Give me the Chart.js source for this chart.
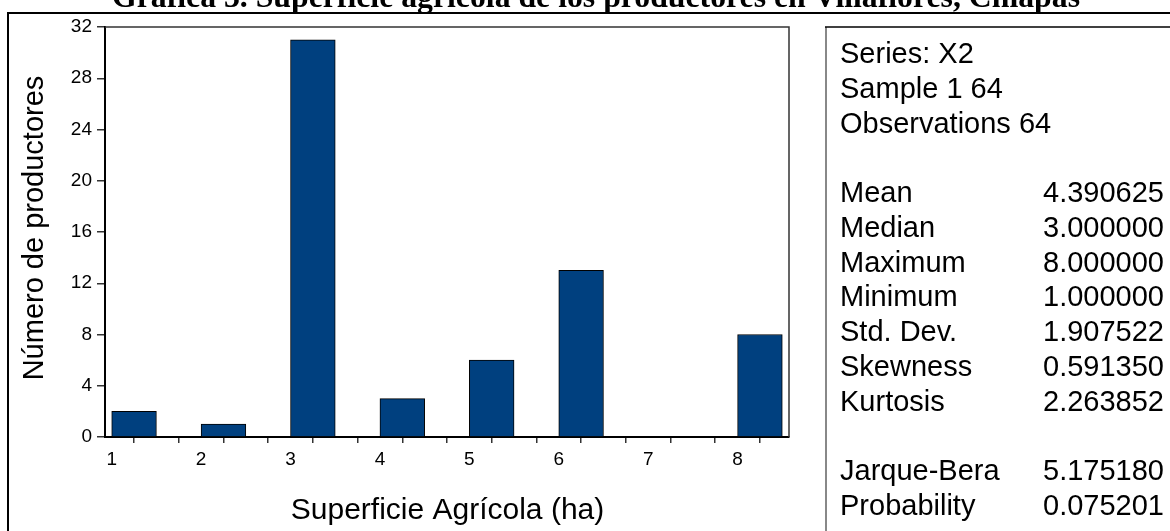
<!DOCTYPE html>
<html>
<head>
<meta charset="utf-8">
<script src="https://cdn.jsdelivr.net/npm/chart.js@4.4.1/dist/chart.umd.min.js"></script>
<style>
html,body{margin:0;padding:0;background:#fff;}
#wrap{width:1170px;height:531px;position:relative;}
</style>
</head>
<body>
<div id="wrap"><canvas id="c"></canvas></div>
<script>
// ---- data ----
const titleText = 'Gráfica 3. Superficie agrícola de los productores en Villaflores, Chiapas';
const xTitle = 'Superficie Agrícola (ha)';
const yTitle = 'Número de productores';
const categories = [1, 2, 3, 4, 5, 6, 7, 8];
const counts = [2, 1, 31, 3, 6, 13, 0, 8];
const binWidth = 0.5;
const yTicks = [0, 4, 8, 12, 16, 20, 24, 28, 32];
const headerLines = ['Series: X2', 'Sample 1 64', 'Observations 64'];
const statLabels = ['Mean', 'Median', 'Maximum', 'Minimum', 'Std. Dev.', 'Skewness', 'Kurtosis'];
const statValues = ['4.390625', '3.000000', '8.000000', '1.000000', '1.907522', '0.591350', '2.263852'];
const testLabels = ['Jarque-Bera', 'Probability'];
const testValues = ['5.175180', '0.075201'];

const SANS = "'Liberation Sans', Arial, sans-serif";
const SERIF = "'Liberation Serif', 'Times New Roman', serif";

const decorPlugin = {
  id: 'decor',
  afterDraw(chart) {
    const ctx = chart.ctx;
    const ca = chart.chartArea;
    ctx.save();
    // outer frame
    ctx.strokeStyle = '#000';
    ctx.lineWidth = 2;
    ctx.beginPath();
    ctx.moveTo(8, 531); ctx.lineTo(8, 13); ctx.lineTo(1170, 13);
    ctx.stroke();
    // title (cut by the top edge)
    ctx.fillStyle = '#000';
    ctx.font = 'bold 10px ' + SERIF;
    const w10 = ctx.measureText(titleText).width;
    const fs = 10 * 968 / w10;
    ctx.font = 'bold ' + fs.toFixed(2) + 'px ' + SERIF;
    ctx.textAlign = 'center';
    ctx.textBaseline = 'alphabetic';
    ctx.fillText(titleText, 596, 7);
    // plot box top & right
    ctx.strokeStyle = '#333';
    ctx.lineWidth = 1.5;
    ctx.beginPath();
    ctx.moveTo(ca.left, ca.top); ctx.lineTo(ca.right, ca.top); ctx.lineTo(ca.right, ca.bottom);
    ctx.stroke();
    // stats box
    ctx.strokeStyle = '#888';
    ctx.lineWidth = 2;
    ctx.beginPath();
    ctx.moveTo(826, 531); ctx.lineTo(826, 27);
    ctx.stroke();
    ctx.strokeStyle = '#000';
    ctx.lineWidth = 1.5;
    ctx.beginPath();
    ctx.moveTo(825, 27); ctx.lineTo(1170, 27);
    ctx.stroke();
    // stats text
    ctx.font = '29px ' + SANS;
    ctx.fillStyle = '#000';
    const base = 63, step = 34.75;
    headerLines.forEach((t, i) => {
      ctx.textAlign = 'left';
      ctx.fillText(t, 840, base + step * i);
    });
    statLabels.forEach((t, i) => {
      const y = base + step * (i + 4);
      ctx.textAlign = 'left'; ctx.fillText(t, 840, y);
      ctx.textAlign = 'right'; ctx.fillText(statValues[i], 1164, y);
    });
    testLabels.forEach((t, i) => {
      const y = base + step * (i + 12);
      ctx.textAlign = 'left'; ctx.fillText(t, 840, y);
      ctx.textAlign = 'right'; ctx.fillText(testValues[i], 1164, y);
    });
    // axis titles
    ctx.font = '30px ' + SANS;
    ctx.textAlign = 'center';
    ctx.fillText(xTitle, 447.5, 519);
    ctx.font = '29px ' + SANS;
    ctx.translate(42.5, 228);
    ctx.rotate(-Math.PI / 2);
    ctx.fillText(yTitle, 0, 0);
    ctx.restore();
  }
};

new Chart(document.getElementById('c'), {
  type: 'bar',
  data: {
    datasets: [{
      data: categories.map((c, i) => ({ x: c + binWidth / 2, y: counts[i] })),
      backgroundColor: '#00407f',
      borderColor: '#000',
      borderWidth: 1,
      categoryPercentage: 1,
      barPercentage: 1
    }]
  },
  options: {
    responsive: true,
    maintainAspectRatio: false,
    animation: false,
    layout: { padding: { left: 0, top: 27, right: 381, bottom: 0 } },
    plugins: { legend: { display: false }, tooltip: { enabled: false }, title: { display: false } },
    scales: {
      x: {
        type: 'linear',
        min: 0.925,
        max: 8.575,
        offset: false,
        afterBuildTicks(s) {
          const t = [];
          categories.forEach(c => { t.push({ value: c }); t.push({ value: c + binWidth }); });
          s.ticks = t;
        },
        afterFit(s) { s.height = 94; },
        ticks: {
          autoSkip: false,
          maxRotation: 0,
          minRotation: 0,
          padding: 5,
          color: '#000',
          font: { family: SANS, size: 19 },
          callback: v => (Number.isInteger(v) ? String(v) : '')
        },
        grid: { drawOnChartArea: false, drawTicks: true, tickLength: 6, color: '#333', lineWidth: 1.5 },
        border: { display: true, color: '#000', width: 2 }
      },
      y: {
        type: 'linear',
        min: 0,
        max: 32,
        afterBuildTicks(s) { s.ticks = yTicks.map(v => ({ value: v })); },
        afterFit(s) { s.width = 105; },
        ticks: {
          padding: 5,
          color: '#000',
          font: { family: SANS, size: 19 }
        },
        grid: { drawOnChartArea: false, drawTicks: true, tickLength: 8, color: '#333', lineWidth: 1.5 },
        border: { display: true, color: '#000', width: 2 }
      }
    }
  },
  plugins: [decorPlugin]
});
</script>
</body>
</html>
